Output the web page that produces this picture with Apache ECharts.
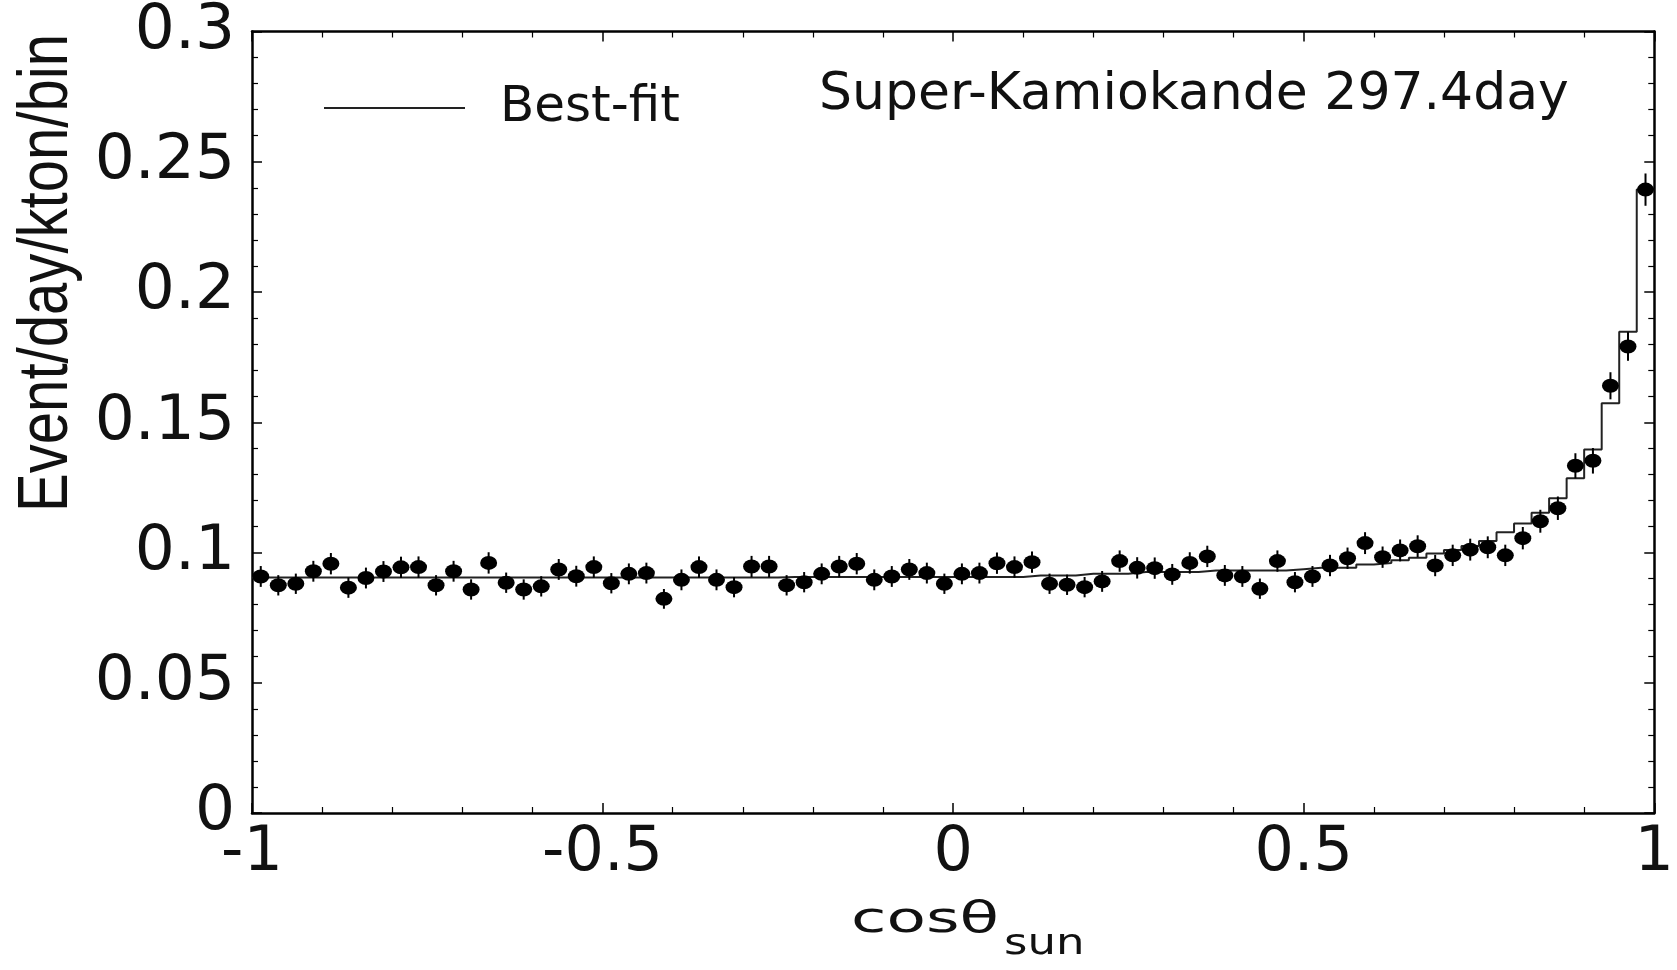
<!DOCTYPE html>
<html><head><meta charset="utf-8">
<script src="https://cdn.jsdelivr.net/npm/echarts@6/dist/echarts.min.js"></script>
<style>html,body{margin:0;padding:0;background:#fff;overflow:hidden}#c{width:1677px;height:970px}</style>
</head><body><div id="c"></div>
<script>
// 80 bins of cos(theta_sun) from -1 to 1
const X_MIN = -1;
const BIN_WIDTH = 0.025;

const eventRate = [
  0.0908, 0.0874, 0.0880, 0.0928, 0.0957, 0.0865, 0.0902, 0.0927, 0.0943, 0.0944,
  0.0874, 0.0928, 0.0858, 0.0960, 0.0884, 0.0858, 0.0870, 0.0935, 0.0909, 0.0944,
  0.0882, 0.0918, 0.0921, 0.0822, 0.0895, 0.0944, 0.0895, 0.0867, 0.0946, 0.0946,
  0.0874, 0.0886, 0.0918, 0.0946, 0.0957, 0.0895, 0.0908, 0.0935, 0.0921, 0.0880,
  0.0918, 0.0921, 0.0959, 0.0944, 0.0963, 0.0880, 0.0876, 0.0867, 0.0889, 0.0967,
  0.0941, 0.0940, 0.0916, 0.0960, 0.0985, 0.0912, 0.0908, 0.0861, 0.0967, 0.0886,
  0.0908, 0.0950, 0.0978, 0.1036, 0.0982, 0.1008, 0.1024, 0.0950, 0.0989, 0.1011,
  0.1020, 0.0989, 0.1055, 0.1120, 0.1170, 0.1333, 0.1352, 0.1640, 0.1791, 0.2393
];

const eventError = [
  0.0040, 0.0039, 0.0039, 0.0040, 0.0041, 0.0039, 0.0040, 0.0040, 0.0041, 0.0041,
  0.0039, 0.0040, 0.0039, 0.0041, 0.0039, 0.0039, 0.0039, 0.0040, 0.0040, 0.0041,
  0.0039, 0.0040, 0.0040, 0.0038, 0.0040, 0.0041, 0.0040, 0.0039, 0.0041, 0.0041,
  0.0039, 0.0039, 0.0040, 0.0041, 0.0041, 0.0040, 0.0040, 0.0040, 0.0040, 0.0039,
  0.0040, 0.0040, 0.0041, 0.0041, 0.0041, 0.0039, 0.0039, 0.0039, 0.0040, 0.0041,
  0.0041, 0.0041, 0.0040, 0.0041, 0.0041, 0.0040, 0.0040, 0.0039, 0.0041, 0.0039,
  0.0040, 0.0041, 0.0041, 0.0042, 0.0041, 0.0042, 0.0042, 0.0041, 0.0041, 0.0042,
  0.0042, 0.0041, 0.0043, 0.0044, 0.0045, 0.0048, 0.0049, 0.0052, 0.0055, 0.0062
];

const bestFit = [
  0.0904, 0.0904, 0.0904, 0.0904, 0.0904, 0.0904, 0.0904, 0.0904, 0.0904, 0.0904,
  0.0904, 0.0904, 0.0904, 0.0904, 0.0904, 0.0904, 0.0904, 0.0904, 0.0904, 0.0904,
  0.0904, 0.0904, 0.0904, 0.0904, 0.0904, 0.0904, 0.0904, 0.0904, 0.0904, 0.0904,
  0.0906, 0.0906, 0.0906, 0.0906, 0.0906, 0.0906, 0.0906, 0.0906, 0.0906, 0.0906,
  0.0906, 0.0906, 0.0906, 0.0906, 0.0912, 0.0912, 0.0912, 0.0918, 0.0918, 0.0918,
  0.0925, 0.0925, 0.0925, 0.0925, 0.0931, 0.0931, 0.0931, 0.0931, 0.0931, 0.0936,
  0.0941, 0.0941, 0.0941, 0.0954, 0.0960, 0.0970, 0.0980, 0.0996, 0.1010, 0.1025,
  0.1044, 0.1078, 0.1111, 0.1153, 0.1208, 0.1285, 0.1395, 0.1573, 0.1847, 0.2393
];

const titleText = 'Super-Kamiokande 297.4day';
const legendName = 'Best-fit';
const yAxisTitle = 'Event/day/kton/bin';
const xAxisTitle = 'cosθ';
const xAxisSub = 'sun';

const pointData = eventRate.map((v, i) => [X_MIN + BIN_WIDTH * (i + 0.5), v, eventError[i]]);
const stepData = bestFit.map((v, i) => [X_MIN + BIN_WIDTH * i, v]);
stepData.push([X_MIN + BIN_WIDTH * bestFit.length, bestFit[bestFit.length - 1]]);

const axisCommon = {
  type: 'value',
  axisLine: { show: true, onZero: false, lineStyle: { color: '#000', width: 2.5 } },
  axisTick: { show: true, inside: true, length: 10, lineStyle: { color: '#000', width: 1.5 } },
  minorTick: { show: true, splitNumber: 5, length: 6, lineStyle: { color: '#000', width: 1.2 } },
  splitLine: { show: false },
  minorSplitLine: { show: false }
};

const chart = echarts.init(document.getElementById('c'), null, { renderer: 'canvas' });
chart.setOption({
  backgroundColor: '#fff',
  animation: false,
  title: {
    text: titleText,
    left: 814, top: 64,
    textStyle: { fontFamily: 'DejaVu Sans', fontSize: 52, fontWeight: 'normal', color: '#111' }
  },
  legend: {
    left: 319, top: 78,
    data: [{ name: legendName, icon: 'rect' }],
    itemWidth: 141, itemHeight: 2,
    itemStyle: { color: '#222' },
    textStyle: { fontFamily: 'DejaVu Sans', fontSize: 50, color: '#111', padding: [0, 0, 0, 30] }
  },
  grid: { left: 252, right: 15, top: 30, bottom: 157, containLabel: false },
  xAxis: [
    Object.assign({}, axisCommon, {
      min: -1, max: 1, interval: 0.5, position: 'bottom',
      axisLabel: { show: true, margin: 10, fontFamily: 'DejaVu Sans', fontSize: 62, color: '#111' }
    }),
    Object.assign({}, axisCommon, {
      min: -1, max: 1, interval: 0.5, position: 'top',
      axisLabel: { show: false }
    })
  ],
  yAxis: [
    Object.assign({}, axisCommon, {
      min: 0, max: 0.3, interval: 0.05, position: 'left',
      axisLabel: { show: true, margin: 17, fontFamily: 'DejaVu Sans', fontSize: 63, color: '#111' }
    }),
    Object.assign({}, axisCommon, {
      min: 0, max: 0.3, interval: 0.05, position: 'right',
      axisLabel: { show: false }
    })
  ],
  graphic: [
    { type: 'text', x: 48, y: 273, rotation: Math.PI / 2, scaleX: 0.83,
      style: { text: yAxisTitle, font: '70px "Liberation Sans"', fill: '#111', textAlign: 'center', textVerticalAlign: 'middle' } },
    { type: 'text', x: 851, y: 921, scaleX: 1.5,
      style: { text: xAxisTitle, font: '43px "DejaVu Sans"', fill: '#111', textAlign: 'left', textVerticalAlign: 'middle' } },
    { type: 'text', x: 1004, y: 945, scaleX: 1.25,
      style: { text: xAxisSub, font: '36px "DejaVu Sans"', fill: '#111', textAlign: 'left', textVerticalAlign: 'middle' } }
  ],
  series: [
    {
      name: legendName, type: 'line', step: 'end', data: stepData,
      xAxisIndex: 0, yAxisIndex: 0,
      symbol: 'none', showSymbol: false,
      lineStyle: { color: '#222', width: 2 },
      itemStyle: { color: '#222' },
      z: 2
    },
    {
      name: 'errors', type: 'custom', data: pointData, xAxisIndex: 0, yAxisIndex: 0,
      encode: { x: 0, y: 1 },
      renderItem: function (params, api) {
        const x = api.value(0), y = api.value(1), e = api.value(2);
        const p1 = api.coord([x, y - e]);
        const p2 = api.coord([x, y + e]);
        return { type: 'line', shape: { x1: p1[0], y1: p1[1], x2: p2[0], y2: p2[1] },
                 style: { stroke: '#000', lineWidth: 2 } };
      },
      z: 3
    },
    {
      name: 'data', type: 'scatter', data: pointData, xAxisIndex: 0, yAxisIndex: 0,
      encode: { x: 0, y: 1 },
      symbol: 'circle', symbolSize: [17, 14],
      itemStyle: { color: '#000', opacity: 1 },
      z: 4
    }
  ]
});
</script>
</body></html>
